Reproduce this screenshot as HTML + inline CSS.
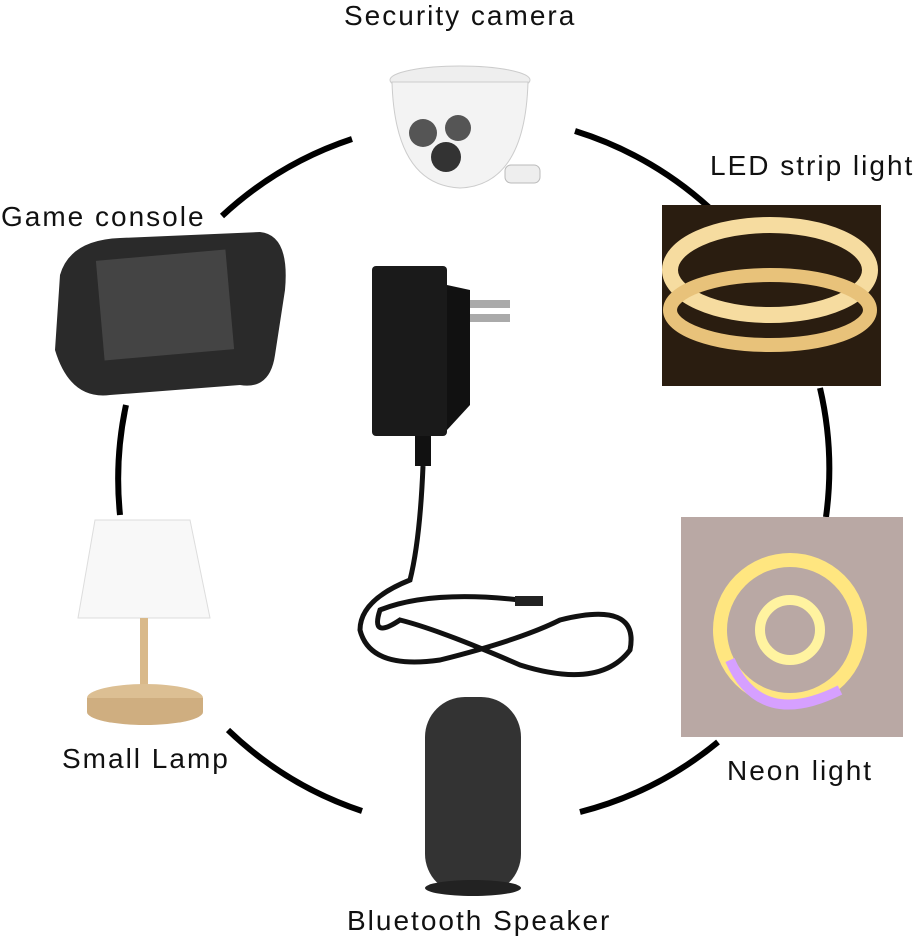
<!DOCTYPE html>
<html><head><style>
body{margin:0;background:#fff}
svg{display:block}
text{font-family:"Liberation Sans",sans-serif;font-size:28px;letter-spacing:2px;fill:#111}
</style></head><body>
<svg width="917" height="940" viewBox="0 0 917 940">
<rect width="917" height="940" fill="#fff"/>
<g fill="none" stroke="#000" stroke-width="6">
<path d="M222 216 A355 355 0 0 1 352 139"/>
<path d="M575 131 A355 355 0 0 1 716 214"/>
<path d="M820 388 A355 355 0 0 1 826 517"/>
<path d="M718 742 A355 355 0 0 1 580 812"/>
<path d="M362 811 A355 355 0 0 1 228 730"/>
<path d="M120 515 A355 355 0 0 1 126 405"/>
</g>
<ellipse cx="460" cy="80" rx="70" ry="14" fill="#eee" stroke="#ccc"/>
<path d="M392 82 Q395 185 460 188 Q525 185 528 82 Z" fill="#f3f3f3" stroke="#ccc"/>
<circle cx="423" cy="133" r="14" fill="#555"/><circle cx="458" cy="128" r="13" fill="#555"/><circle cx="446" cy="157" r="15" fill="#333"/>
<rect x="505" y="165" width="35" height="18" rx="6" fill="#eee" stroke="#bbb"/>
<rect x="662" y="205" width="219" height="181" fill="#2a1d10"/>
<ellipse cx="770" cy="270" rx="100" ry="45" fill="none" stroke="#f6dca0" stroke-width="16"/>
<ellipse cx="770" cy="310" rx="100" ry="35" fill="none" stroke="#e8c27a" stroke-width="14"/>
<rect x="681" y="517" width="222" height="220" fill="#b9a8a4"/>
<circle cx="790" cy="630" r="70" fill="none" stroke="#ffe680" stroke-width="14"/>
<circle cx="790" cy="630" r="30" fill="none" stroke="#fff3a0" stroke-width="10"/>
<path d="M730 660 Q760 730 840 690" fill="none" stroke="#d6a0ff" stroke-width="10"/>
<path d="M60 275 Q70 240 120 238 L260 232 Q290 235 285 290 L275 355 Q270 390 240 385 L110 395 Q70 400 55 350 Z" fill="#2a2a2a"/>
<rect x="100" y="255" width="130" height="100" fill="#444" transform="rotate(-5 165 305)"/>
<path d="M95 520 L190 520 L210 618 L78 618 Z" fill="#f8f8f8" stroke="#ddd"/>
<rect x="140" y="618" width="8" height="72" fill="#d9b98a"/>
<ellipse cx="145" cy="698" rx="58" ry="14" fill="#dcbf93"/>
<rect x="87" y="698" width="116" height="14" fill="#cfae80"/>
<ellipse cx="145" cy="712" rx="58" ry="13" fill="#cfae80"/>
<rect x="425" y="697" width="96" height="197" rx="40" fill="#333"/>
<ellipse cx="473" cy="888" rx="48" ry="8" fill="#222"/>
<rect x="372" y="266" width="75" height="170" rx="4" fill="#1a1a1a"/>
<path d="M447 285 L470 290 L470 405 L447 430 Z" fill="#111"/>
<rect x="470" y="300" width="40" height="8" fill="#aaa"/><rect x="470" y="314" width="40" height="8" fill="#aaa"/>
<rect x="415" y="436" width="16" height="30" fill="#111"/>
<path d="M423 466 Q420 540 410 580 Q360 600 360 630 Q370 670 440 660 Q520 640 560 620 Q640 600 630 650 Q600 690 520 665 Q440 630 400 620 Q370 640 380 610 Q430 590 520 600" fill="none" stroke="#111" stroke-width="5"/>
<rect x="515" y="596" width="28" height="10" fill="#222"/>
<text x="344" y="25">Security camera</text>
<text x="710" y="175" letter-spacing="1.3">LED strip light</text>
<text x="1" y="226">Game console</text>
<text x="62" y="768">Small Lamp</text>
<text x="727" y="780">Neon light</text>
<text x="347" y="930">Bluetooth Speaker</text>
</svg>
</body></html>
